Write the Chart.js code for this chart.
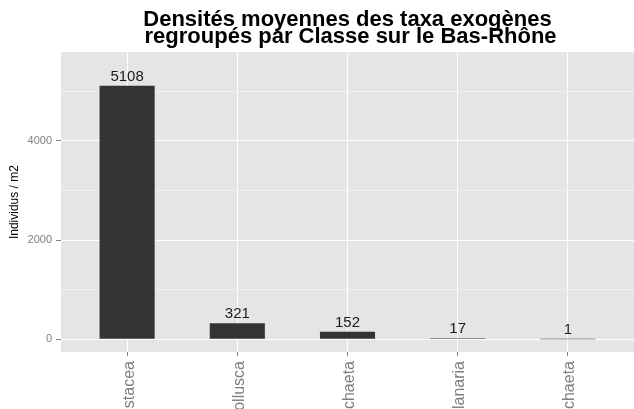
<!DOCTYPE html>
<html><head><meta charset="utf-8">
<script src="https://cdn.jsdelivr.net/npm/chart.js@4"></script>
<style>html,body{margin:0;padding:0;background:#fff;overflow:hidden}canvas{display:block}</style>
</head><body>
<canvas id="c" width="634" height="409"></canvas>
<script>
const categories = ['Crustacea', 'Mollusca', 'Oligochaeta', 'Planaria', 'Polychaeta'];
const values = [5108, 321, 152, 17, 1];
const yTickValues = [0, 1000, 2000, 3000, 4000, 5000];
const yTickLabels = ['0', '', '2000', '', '4000', ''];
const yMajor = [0, 2000, 4000];
const titleLines = ['Densités moyennes des taxa exogènes', ' regroupés par Classe sur le Bas-Rhône'];
const yTitle = 'Individus / m2';

Chart.defaults.font.family = "'Liberation Sans', Arial, sans-serif";

const panelBg = {
  id: 'panelBg',
  beforeDraw(chart) {
    const a = chart.chartArea, ctx = chart.ctx;
    ctx.save();
    ctx.fillStyle = '#E5E5E5';
    ctx.fillRect(a.left, a.top, a.right - a.left, a.bottom - a.top);
    ctx.restore();
  }
};

const barLabels = {
  id: 'barLabels',
  afterDatasetsDraw(chart) {
    const ctx = chart.ctx;
    const meta = chart.getDatasetMeta(0);
    ctx.save();
    ctx.font = "15px 'Liberation Sans', Arial, sans-serif";
    ctx.fillStyle = '#1a1a1a';
    ctx.textAlign = 'center';
    ctx.textBaseline = 'alphabetic';
    meta.data.forEach((el, i) => {
      ctx.fillText(String(values[i]), el.x, el.y - 5);
    });
    ctx.restore();
  }
};

new Chart(document.getElementById('c'), {
  type: 'bar',
  data: {
    datasets: [{
      data: values.map((v, i) => ({ x: i + 1, y: v })),
      backgroundColor: '#333333',
      borderColor: '#333333',
      borderWidth: 0,
      barPercentage: 0.5,
      categoryPercentage: 1.0
    }]
  },
  options: {
    responsive: false,
    animation: false,
    layout: { padding: 0 },
    plugins: {
      legend: { display: false },
      tooltip: { enabled: false },
      title: {
        display: true,
        text: titleLines,
        fullSize: false,
        color: '#000',
        font: { size: 22, weight: 'bold', lineHeight: 0.8 },
        padding: { top: 11, bottom: 6 }
      }
    },
    scales: {
      x: {
        type: 'linear',
        min: 0.4,
        max: 5.6,
        offset: false,
        afterBuildTicks: s => { s.ticks = categories.map((c, i) => ({ value: i + 1 })); },
        afterFit: s => { s.height = 57; },
        grid: { offset: false, color: '#FFFFFF', lineWidth: 1, tickLength: 4, tickColor: '#7F7F7F' },
        border: { display: false },
        ticks: {
          autoSkip: false, minRotation: 90, maxRotation: 90, padding: 5, labelOffset: 2,
          color: '#7F7F7F', font: { size: 16 },
          callback: v => categories[Math.round(v) - 1]
        }
      },
      y: {
        min: -258,
        max: 5787,
        afterBuildTicks: s => { s.ticks = yTickValues.map(v => ({ value: v })); },
        afterFit: s => { s.width = 61; },
        grid: {
          color: c => (c.tick && yMajor.includes(c.tick.value)) ? '#FFFFFF' : '#F2F2F2',
          tickColor: c => (c.tick && yMajor.includes(c.tick.value)) ? '#7F7F7F' : 'rgba(0,0,0,0)',
          lineWidth: 1,
          tickLength: 5
        },
        border: { display: false },
        ticks: {
          padding: 4, color: '#7F7F7F', font: { size: 11 },
          callback: (v, i) => yTickLabels[i]
        },
        title: {
          display: true, text: yTitle, color: '#000', font: { size: 12 },
          padding: { top: 7, bottom: 0 }
        }
      }
    }
  },
  plugins: [panelBg, barLabels]
});
</script>
</body></html>
